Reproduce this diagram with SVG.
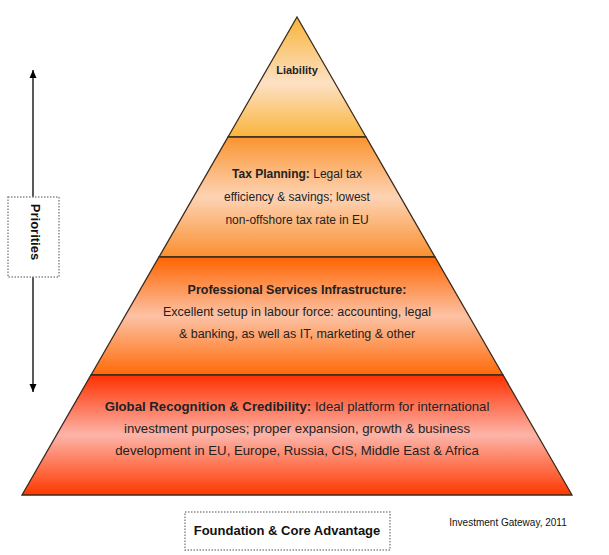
<svg xmlns="http://www.w3.org/2000/svg" width="609" height="555" viewBox="0 0 609 555">
<style>
.tier{stroke:#3b2a1c;stroke-width:1.3;stroke-linejoin:miter}
.t{font-family:"Liberation Sans",Arial,sans-serif;font-size:12px;fill:#222;text-anchor:middle}
.t3{font-size:12.5px}
.t4{font-size:13.2px}
.b{font-weight:bold}
.box{fill:#fff;stroke:#8a8a8a;stroke-width:1.5;stroke-dasharray:1.5 1.5}
.lbl{font-family:"Liberation Sans",Arial,sans-serif;font-size:13px;font-weight:bold;fill:#111;text-anchor:middle}
.conn{stroke:#000;stroke-width:1.3;fill:none}
</style>
<defs>
<linearGradient id="g1" x1="0" y1="0" x2="0" y2="1">
<stop offset="0" stop-color="#f8b43a"/><stop offset="0.55" stop-color="#fde1c4"/><stop offset="1" stop-color="#f9b43c"/>
</linearGradient>
<linearGradient id="g2" x1="0" y1="0" x2="0" y2="1">
<stop offset="0" stop-color="#fa9430"/><stop offset="0.5" stop-color="#fdd3b4"/><stop offset="1" stop-color="#fa9030"/>
</linearGradient>
<linearGradient id="g3" x1="0" y1="0" x2="0" y2="1">
<stop offset="0" stop-color="#ff6400"/><stop offset="0.5" stop-color="#fcc2a4"/><stop offset="1" stop-color="#ff6a08"/>
</linearGradient>
<linearGradient id="g4" x1="0" y1="0" x2="0" y2="1">
<stop offset="0" stop-color="#ff3000"/><stop offset="0.5" stop-color="#fcb4a8"/><stop offset="1" stop-color="#ff3800"/>
</linearGradient>
<marker id="ah" viewBox="0 0 8 10" refX="8" refY="5" markerWidth="8" markerHeight="10" markerUnits="userSpaceOnUse" orient="auto">
<path d="M0,1.5 L8,5 L0,8.5 Z" fill="#000"/>
</marker>
</defs>

<g id="tier-liability">
<polygon class="tier" fill="url(#g1)" points="297,17 366,137 228,137"/>
<text class="t b" x="297" y="74" style="font-size:11px">Liability</text>
</g>

<g id="tier-tax">
<polygon class="tier" fill="url(#g2)" points="228,137 366,137 435,257 159,257"/>
<text class="t" x="297" y="178"><tspan class="b">Tax Planning:</tspan> Legal tax</text>
<text class="t" x="297" y="201">efficiency &amp; savings; lowest</text>
<text class="t" x="297" y="224">non-offshore tax rate in EU</text>
</g>

<g id="tier-services">
<polygon class="tier" fill="url(#g3)" points="159,257 435,257 503,375 91,375"/>
<text class="t t3 b" x="297" y="294">Professional Services Infrastructure:</text>
<text class="t t3" x="297" y="316">Excellent setup in labour force: accounting, legal</text>
<text class="t t3" x="297" y="338">&amp; banking, as well as IT, marketing &amp; other</text>
</g>

<g id="tier-global">
<polygon class="tier" fill="url(#g4)" points="91,375 503,375 572,495 22,495"/>
<text class="t t4" x="297" y="411"><tspan class="b">Global Recognition &amp; Credibility:</tspan> Ideal platform for international</text>
<text class="t t4" x="297" y="433">investment purposes; proper expansion, growth &amp; business</text>
<text class="t t4" x="297" y="455">development in EU, Europe, Russia, CIS, Middle East &amp; Africa</text>
</g>

<g id="connectors">
<line class="conn" x1="33" y1="197" x2="33" y2="70" marker-end="url(#ah)"/>
<line class="conn" x1="33" y1="277" x2="33" y2="392" marker-end="url(#ah)"/>
</g>

<g id="priorities">
<rect class="box" x="8" y="197" width="51" height="80"/>
<text class="lbl" transform="translate(31,232) rotate(90)" x="0" y="0">Priorities</text>
</g>

<g id="foundation">
<rect class="box" x="185" y="512" width="205" height="38"/>
<text class="lbl" x="287" y="535">Foundation &amp; Core Advantage</text>
</g>

<g id="credit">
<text x="508" y="526" style="font-family:'Liberation Sans',Arial,sans-serif;font-size:10px;fill:#111;text-anchor:middle">Investment Gateway, 2011</text>
</g>
</svg>
